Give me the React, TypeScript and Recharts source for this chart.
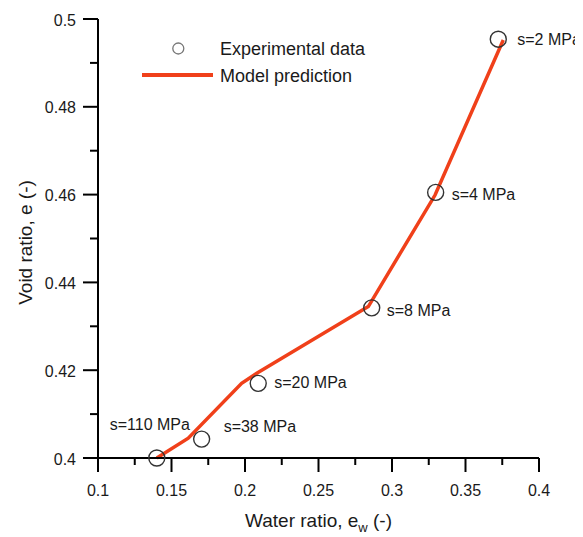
import React from 'react';
import { ComposedChart, Line, Scatter, XAxis, YAxis, Legend } from 'recharts';

// Experimental data (water ratio, void ratio) and labels
const expX = [0.3723, 0.3297, 0.2862, 0.209, 0.1705, 0.14];
const expY = [0.4954, 0.4605, 0.4342, 0.417, 0.4043, 0.4];
const expLabels = ['s=2 MPa', 's=4 MPa', 's=8 MPa', 's=20 MPa', 's=38 MPa', 's=110 MPa'];

// Model prediction
const modelX = [0.14, 0.1614, 0.1977, 0.208, 0.2839, 0.3293, 0.3757];
const modelY = [0.4, 0.4045, 0.417, 0.4193, 0.4345, 0.4599, 0.4952];

// Axis ticks (major + minor)
const xTicks = [0.1, 0.125, 0.15, 0.175, 0.2, 0.225, 0.25, 0.275, 0.3, 0.325, 0.35, 0.375, 0.4];
const yTicks = [0.4, 0.41, 0.42, 0.43, 0.44, 0.45, 0.46, 0.47, 0.48, 0.49, 0.5];

const expData = expX.map((x, i) => ({ x, y: expY[i], label: expLabels[i] }));
const modelData = modelX.map((x, i) => ({ x, y: modelY[i] }));

// label placement relative to each marker (dx, dy, anchor)
const labelPlacement: Array<[number, number, string]> = [
  [19, 0, 'start'],
  [16, 2, 'start'],
  [15, 3, 'start'],
  [16, -1, 'start'],
  [22, -13, 'start'],
  [-7, -34, 'middle'],
];

const FONT = 'Arial, "Liberation Sans", Helvetica, sans-serif';
const RED = '#F0401A';

const fmt = (v: number) => String(+v.toFixed(3));
const isMultiple = (v: number, step: number) => Math.abs(v / step - Math.round(v / step)) < 1e-6;

const XTick = (props: any) => {
  const { x, y, payload } = props;
  const major = isMultiple(payload.value, 0.05);
  return (
    <g>
      <line x1={x} x2={x} y1={y} y2={y + (major ? 14 : 7)} stroke="#000" strokeWidth={2} />
      {major && (
        <text x={x} y={y + 32} textAnchor="middle" dominantBaseline="central" fontSize={16} fill="#1a1a1a" fontFamily={FONT}>
          {fmt(payload.value)}
        </text>
      )}
    </g>
  );
};

const YTick = (props: any) => {
  const { x, y, payload } = props;
  const major = isMultiple(payload.value, 0.02);
  return (
    <g>
      <line x1={x - (major ? 15 : 8)} x2={x} y1={y} y2={y} stroke="#000" strokeWidth={2} />
      {major && (
        <text x={x - 22} y={y + 1} textAnchor="end" dominantBaseline="central" fontSize={16} fill="#1a1a1a" fontFamily={FONT}>
          {fmt(payload.value)}
        </text>
      )}
    </g>
  );
};

const ExpShape = (props: any) => {
  const { cx, cy, payload } = props;
  const i = expLabels.indexOf(payload.label);
  const [dx, dy, anchor] = labelPlacement[i] || [16, 0, 'start'];
  return (
    <g>
      <circle cx={cx} cy={cy} r={8} fill="none" stroke="#333" strokeWidth={1.4} />
      <text x={cx + dx} y={cy + dy} textAnchor={anchor as any} dominantBaseline="central" fontSize={16} fill="#1a1a1a" fontFamily={FONT}>
        {payload.label}
      </text>
    </g>
  );
};

const LegendContent = () => (
  <svg width={270} height={54} style={{ display: 'block', overflow: 'visible' }}>
    <circle cx={40.3} cy={12.5} r={5.5} fill="none" stroke="#777" strokeWidth={1.3} />
    <line x1={4} x2={75} y1={39} y2={39} stroke={RED} strokeWidth={4} />
    <text x={82} y={13} dominantBaseline="central" fontSize={18} fill="#1a1a1a" fontFamily={FONT}>Experimental data</text>
    <text x={82} y={40} dominantBaseline="central" fontSize={18} fill="#1a1a1a" fontFamily={FONT}>Model prediction</text>
  </svg>
);

const XLabel = (props: any) => {
  const vb = props.viewBox || { x: 90, y: 450, width: 441, height: 79 };
  const cx = vb.x + vb.width / 2;
  const y = vb.y + 69;
  return (
    <text x={cx} y={y} textAnchor="middle" fontSize={19} fill="#1a1a1a" fontFamily={FONT}>
      <tspan>Water ratio, e</tspan>
      <tspan dy={5} fontSize={13}>w</tspan>
      <tspan dy={-5}> (-)</tspan>
    </text>
  );
};

const YLabel = (props: any) => {
  const vb = props.viewBox || { x: 0, y: 11, width: 90, height: 439 };
  const cx = vb.x + 17;
  const cy = vb.y + vb.height / 2 + 4;
  return (
    <text x={cx} y={cy} transform={`rotate(-90 ${cx} ${cy})`} textAnchor="middle" dominantBaseline="central" fontSize={19} fill="#1a1a1a" fontFamily={FONT}>
      Void ratio, e (-)
    </text>
  );
};

export default function App() {
  return (
    <div style={{ width: 575, height: 529 }}>
      <ComposedChart width={575} height={529} margin={{ top: 11, right: 44, bottom: 0, left: 0 }}>
        <XAxis
          dataKey="x"
          type="number"
          domain={[0.1, 0.4]}
          ticks={xTicks}
          interval={0}
          tickSize={0}
          tickMargin={0}
          tickLine={false}
          tick={<XTick />}
          axisLine={{ stroke: '#000', strokeWidth: 2 }}
          height={79}
          label={<XLabel />}
        />
        <YAxis
          dataKey="y"
          type="number"
          domain={[0.4, 0.5]}
          ticks={yTicks}
          interval={0}
          tickSize={0}
          tickMargin={0}
          tickLine={false}
          tick={<YTick />}
          axisLine={{ stroke: '#000', strokeWidth: 2 }}
          width={90}
          label={<YLabel />}
        />
        <Legend
          layout="horizontal"
          verticalAlign="middle"
          align="center"
          content={<LegendContent />}
          wrapperStyle={{ position: 'absolute', left: 130, top: 28, width: 270, height: 54 }}
        />
        <Scatter data={expData} dataKey="y" shape={<ExpShape />} isAnimationActive={false} />
        <Line data={modelData} dataKey="y" type="linear" stroke={RED} strokeWidth={3.5} dot={false} activeDot={false} isAnimationActive={false} />
      </ComposedChart>
    </div>
  );
}
